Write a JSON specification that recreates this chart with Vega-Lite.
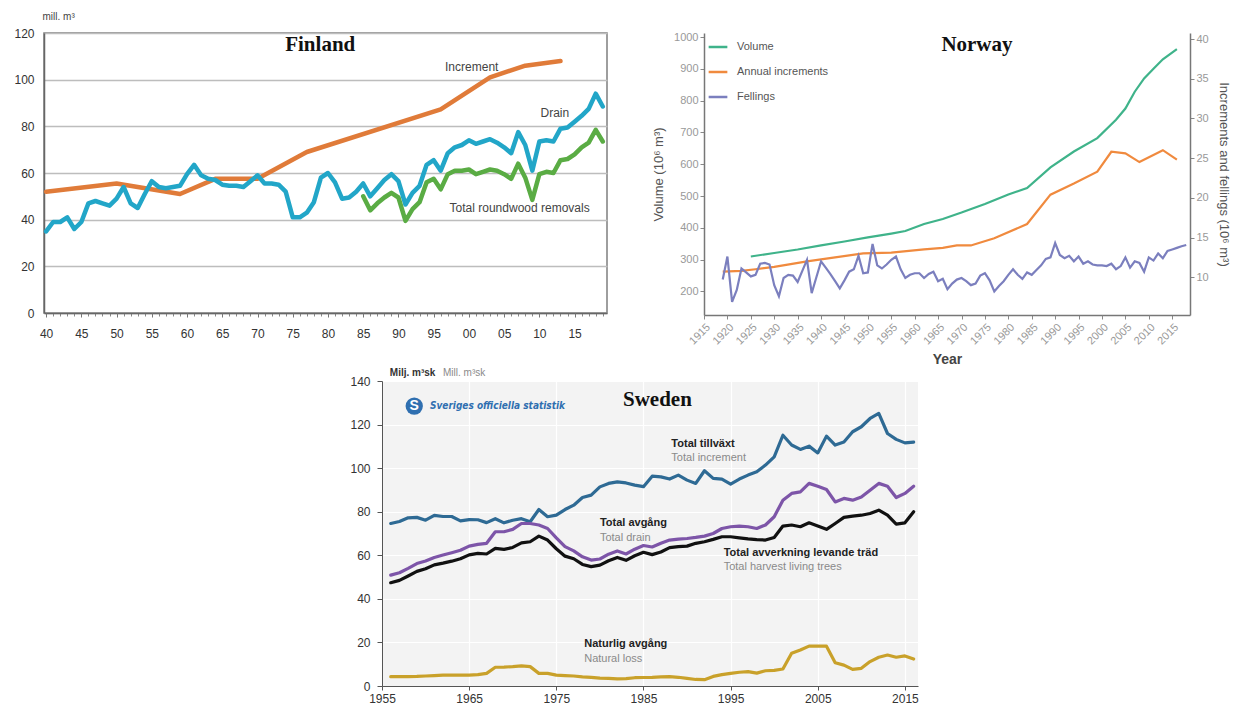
{
"$schema": "https://vega.github.io/schema/vega-lite/v6.json",
"background": "white",
"padding": {"left": 13, "top": 10, "right": 12, "bottom": 0},
"autosize": {"type": "pad"},
"bounds": "full",
"spacing": 1,
"resolve": {"scale": {"color": "independent", "strokeWidth": "independent"}, "legend": {"color": "independent", "strokeWidth": "independent"}},
"config": {"font": "Liberation Sans", "view": {"stroke": null}},
"datasets": {
"fin": [
{"s":"Increment","year":1940,"value":52},{"s":"Increment","year":1950,"value":55.5},{"s":"Increment","year":1959,"value":51},{"s":"Increment","year":1964,"value":57.5},{"s":"Increment","year":1970,"value":57.5},{"s":"Increment","year":1977,"value":69},{"s":"Increment","year":1996,"value":87.3},{"s":"Increment","year":2003,"value":101},{"s":"Increment","year":2008,"value":106},{"s":"Increment","year":2013,"value":108},
{"s":"Drain","year":1940,"value":35},{"s":"Drain","year":1941,"value":39},{"s":"Drain","year":1942,"value":39},{"s":"Drain","year":1943,"value":41},{"s":"Drain","year":1944,"value":36},{"s":"Drain","year":1945,"value":39},{"s":"Drain","year":1946,"value":47},{"s":"Drain","year":1947,"value":48},{"s":"Drain","year":1948,"value":47},{"s":"Drain","year":1949,"value":46},
{"s":"Drain","year":1950,"value":49},{"s":"Drain","year":1951,"value":54},{"s":"Drain","year":1952,"value":47},{"s":"Drain","year":1953,"value":45},{"s":"Drain","year":1954,"value":51},{"s":"Drain","year":1955,"value":56.5},{"s":"Drain","year":1956,"value":54},{"s":"Drain","year":1957,"value":53.5},{"s":"Drain","year":1958,"value":54},{"s":"Drain","year":1959,"value":54.5},
{"s":"Drain","year":1960,"value":59.5},{"s":"Drain","year":1961,"value":63.5},{"s":"Drain","year":1962,"value":59},{"s":"Drain","year":1963,"value":57.5},{"s":"Drain","year":1964,"value":57},{"s":"Drain","year":1965,"value":55},{"s":"Drain","year":1966,"value":54.5},{"s":"Drain","year":1967,"value":54.5},{"s":"Drain","year":1968,"value":54},{"s":"Drain","year":1969,"value":56.5},
{"s":"Drain","year":1970,"value":59},{"s":"Drain","year":1971,"value":55.5},{"s":"Drain","year":1972,"value":55.5},{"s":"Drain","year":1973,"value":55},{"s":"Drain","year":1974,"value":52},{"s":"Drain","year":1975,"value":41},{"s":"Drain","year":1976,"value":41},{"s":"Drain","year":1977,"value":43},{"s":"Drain","year":1978,"value":47.5},{"s":"Drain","year":1979,"value":58},
{"s":"Drain","year":1980,"value":60},{"s":"Drain","year":1981,"value":56},{"s":"Drain","year":1982,"value":49},{"s":"Drain","year":1983,"value":49.5},{"s":"Drain","year":1984,"value":52},{"s":"Drain","year":1985,"value":55.5},{"s":"Drain","year":1986,"value":50},{"s":"Drain","year":1987,"value":53.5},{"s":"Drain","year":1988,"value":57},{"s":"Drain","year":1989,"value":59.5},
{"s":"Drain","year":1990,"value":56.5},{"s":"Drain","year":1991,"value":46.5},{"s":"Drain","year":1992,"value":51.5},{"s":"Drain","year":1993,"value":54.5},{"s":"Drain","year":1994,"value":63.5},{"s":"Drain","year":1995,"value":65.5},{"s":"Drain","year":1996,"value":61},{"s":"Drain","year":1997,"value":68.5},{"s":"Drain","year":1998,"value":71},{"s":"Drain","year":1999,"value":72},
{"s":"Drain","year":2000,"value":74},{"s":"Drain","year":2001,"value":72.5},{"s":"Drain","year":2002,"value":73.5},{"s":"Drain","year":2003,"value":74.5},{"s":"Drain","year":2004,"value":73},{"s":"Drain","year":2005,"value":71},{"s":"Drain","year":2006,"value":68.5},{"s":"Drain","year":2007,"value":77.5},{"s":"Drain","year":2008,"value":72},{"s":"Drain","year":2009,"value":61},
{"s":"Drain","year":2010,"value":73.5},{"s":"Drain","year":2011,"value":74},{"s":"Drain","year":2012,"value":73.5},{"s":"Drain","year":2013,"value":79},{"s":"Drain","year":2014,"value":79.5},{"s":"Drain","year":2015,"value":82},{"s":"Drain","year":2016,"value":84.5},{"s":"Drain","year":2017,"value":87.5},{"s":"Drain","year":2018,"value":94},{"s":"Drain","year":2019,"value":88.5},
{"s":"Total roundwood removals","year":1985,"value":50},{"s":"Total roundwood removals","year":1986,"value":44},{"s":"Total roundwood removals","year":1987,"value":47},{"s":"Total roundwood removals","year":1988,"value":49.5},{"s":"Total roundwood removals","year":1989,"value":51.5},
{"s":"Total roundwood removals","year":1990,"value":49.5},{"s":"Total roundwood removals","year":1991,"value":39.5},{"s":"Total roundwood removals","year":1992,"value":44.5},{"s":"Total roundwood removals","year":1993,"value":47.5},{"s":"Total roundwood removals","year":1994,"value":56},{"s":"Total roundwood removals","year":1995,"value":57.5},{"s":"Total roundwood removals","year":1996,"value":53},{"s":"Total roundwood removals","year":1997,"value":59.5},{"s":"Total roundwood removals","year":1998,"value":61},{"s":"Total roundwood removals","year":1999,"value":61},
{"s":"Total roundwood removals","year":2000,"value":61.5},{"s":"Total roundwood removals","year":2001,"value":59.5},{"s":"Total roundwood removals","year":2002,"value":60.5},{"s":"Total roundwood removals","year":2003,"value":61.5},{"s":"Total roundwood removals","year":2004,"value":61},{"s":"Total roundwood removals","year":2005,"value":59.5},{"s":"Total roundwood removals","year":2006,"value":57.5},{"s":"Total roundwood removals","year":2007,"value":64},{"s":"Total roundwood removals","year":2008,"value":58},{"s":"Total roundwood removals","year":2009,"value":48.5},
{"s":"Total roundwood removals","year":2010,"value":59.5},{"s":"Total roundwood removals","year":2011,"value":60.5},{"s":"Total roundwood removals","year":2012,"value":60},{"s":"Total roundwood removals","year":2013,"value":65.5},{"s":"Total roundwood removals","year":2014,"value":66},{"s":"Total roundwood removals","year":2015,"value":68},{"s":"Total roundwood removals","year":2016,"value":71},{"s":"Total roundwood removals","year":2017,"value":73},{"s":"Total roundwood removals","year":2018,"value":78.5},{"s":"Total roundwood removals","year":2019,"value":73.5}
],
"fin_title": [{"year":1978.9,"value":114.9,"label":"Finland"}],
"fin_lab": [{"year":2000.4,"value":105.4,"label":"Increment"},{"year":2012.2,"value":85.7,"label":"Drain"},{"year":2007.2,"value":45,"label":"Total roundwood removals"}],
"nor_vol": [
{"s":"Volume","year":1925,"value":310},{"s":"Volume","year":1930,"value":321},{"s":"Volume","year":1935,"value":332},{"s":"Volume","year":1940,"value":345},{"s":"Volume","year":1945,"value":357},{"s":"Volume","year":1950,"value":370},{"s":"Volume","year":1955,"value":382},{"s":"Volume","year":1958,"value":390},{"s":"Volume","year":1962,"value":412},{"s":"Volume","year":1966,"value":428},{"s":"Volume","year":1970,"value":448},{"s":"Volume","year":1975,"value":475},{"s":"Volume","year":1980,"value":505},{"s":"Volume","year":1984,"value":525},{"s":"Volume","year":1989,"value":590},{"s":"Volume","year":1994,"value":640},{"s":"Volume","year":1999,"value":682},{"s":"Volume","year":2003,"value":740},{"s":"Volume","year":2005,"value":775},{"s":"Volume","year":2007,"value":828},{"s":"Volume","year":2009,"value":870},{"s":"Volume","year":2011,"value":900},{"s":"Volume","year":2013,"value":930},{"s":"Volume","year":2016,"value":962}
],
"nor_if": [
{"s":"Annual increments","year":1919,"value":10.7},{"s":"Annual increments","year":1923,"value":10.8},{"s":"Annual increments","year":1926,"value":11.0},{"s":"Annual increments","year":1930,"value":11.3},{"s":"Annual increments","year":1937,"value":12.0},{"s":"Annual increments","year":1943,"value":12.5},{"s":"Annual increments","year":1949,"value":13.0},{"s":"Annual increments","year":1955,"value":13.1},{"s":"Annual increments","year":1962,"value":13.5},{"s":"Annual increments","year":1966,"value":13.7},{"s":"Annual increments","year":1969,"value":14.0},{"s":"Annual increments","year":1972,"value":14.0},{"s":"Annual increments","year":1977,"value":14.9},{"s":"Annual increments","year":1984,"value":16.7},{"s":"Annual increments","year":1989,"value":20.4},{"s":"Annual increments","year":1994,"value":21.8},{"s":"Annual increments","year":1999,"value":23.3},{"s":"Annual increments","year":2002,"value":25.8},{"s":"Annual increments","year":2005,"value":25.6},{"s":"Annual increments","year":2008,"value":24.5},{"s":"Annual increments","year":2013,"value":26.0},{"s":"Annual increments","year":2016,"value":24.8},
{"s":"Fellings","year":1919,"value":9.7},{"s":"Fellings","year":1920,"value":12.6},{"s":"Fellings","year":1921,"value":6.9},{"s":"Fellings","year":1922,"value":8.4},{"s":"Fellings","year":1923,"value":11.1},{"s":"Fellings","year":1924,"value":10.6},{"s":"Fellings","year":1925,"value":10.1},{"s":"Fellings","year":1926,"value":10.3},{"s":"Fellings","year":1927,"value":11.7},{"s":"Fellings","year":1928,"value":11.8},{"s":"Fellings","year":1929,"value":11.6},
{"s":"Fellings","year":1930,"value":9.0},{"s":"Fellings","year":1931,"value":7.6},{"s":"Fellings","year":1932,"value":9.9},{"s":"Fellings","year":1933,"value":10.3},{"s":"Fellings","year":1934,"value":10.2},{"s":"Fellings","year":1935,"value":9.4},{"s":"Fellings","year":1936,"value":10.8},{"s":"Fellings","year":1937,"value":12.2},{"s":"Fellings","year":1938,"value":8.0},{"s":"Fellings","year":1939,"value":10.0},
{"s":"Fellings","year":1940,"value":12.0},{"s":"Fellings","year":1941,"value":11.2},{"s":"Fellings","year":1942,"value":10.4},{"s":"Fellings","year":1943,"value":9.5},{"s":"Fellings","year":1944,"value":8.6},{"s":"Fellings","year":1945,"value":9.6},{"s":"Fellings","year":1946,"value":10.7},{"s":"Fellings","year":1947,"value":11.0},{"s":"Fellings","year":1948,"value":12.7},{"s":"Fellings","year":1949,"value":10.5},
{"s":"Fellings","year":1950,"value":10.6},{"s":"Fellings","year":1951,"value":14.2},{"s":"Fellings","year":1952,"value":11.5},{"s":"Fellings","year":1953,"value":11.1},{"s":"Fellings","year":1954,"value":11.6},{"s":"Fellings","year":1955,"value":12.2},{"s":"Fellings","year":1956,"value":12.6},{"s":"Fellings","year":1957,"value":11.0},{"s":"Fellings","year":1958,"value":9.9},{"s":"Fellings","year":1959,"value":10.3},
{"s":"Fellings","year":1960,"value":10.5},{"s":"Fellings","year":1961,"value":10.5},{"s":"Fellings","year":1962,"value":9.9},{"s":"Fellings","year":1963,"value":10.4},{"s":"Fellings","year":1964,"value":10.7},{"s":"Fellings","year":1965,"value":9.5},{"s":"Fellings","year":1966,"value":9.8},{"s":"Fellings","year":1967,"value":8.5},{"s":"Fellings","year":1968,"value":9.2},{"s":"Fellings","year":1969,"value":9.7},
{"s":"Fellings","year":1970,"value":9.9},{"s":"Fellings","year":1971,"value":9.5},{"s":"Fellings","year":1972,"value":9.0},{"s":"Fellings","year":1973,"value":9.2},{"s":"Fellings","year":1974,"value":10.2},{"s":"Fellings","year":1975,"value":10.5},{"s":"Fellings","year":1976,"value":9.6},{"s":"Fellings","year":1977,"value":8.2},{"s":"Fellings","year":1978,"value":8.9},{"s":"Fellings","year":1979,"value":9.5},
{"s":"Fellings","year":1980,"value":10.3},{"s":"Fellings","year":1981,"value":11.0},{"s":"Fellings","year":1982,"value":10.3},{"s":"Fellings","year":1983,"value":9.8},{"s":"Fellings","year":1984,"value":10.6},{"s":"Fellings","year":1985,"value":10.3},{"s":"Fellings","year":1986,"value":10.9},{"s":"Fellings","year":1987,"value":11.5},{"s":"Fellings","year":1988,"value":12.3},{"s":"Fellings","year":1989,"value":12.5},
{"s":"Fellings","year":1990,"value":14.3},{"s":"Fellings","year":1991,"value":12.8},{"s":"Fellings","year":1992,"value":12.4},{"s":"Fellings","year":1993,"value":12.7},{"s":"Fellings","year":1994,"value":12.0},{"s":"Fellings","year":1995,"value":12.6},{"s":"Fellings","year":1996,"value":11.7},{"s":"Fellings","year":1997,"value":12.0},{"s":"Fellings","year":1998,"value":11.6},{"s":"Fellings","year":1999,"value":11.5},
{"s":"Fellings","year":2000,"value":11.5},{"s":"Fellings","year":2001,"value":11.4},{"s":"Fellings","year":2002,"value":11.7},{"s":"Fellings","year":2003,"value":11.0},{"s":"Fellings","year":2004,"value":11.4},{"s":"Fellings","year":2005,"value":12.5},{"s":"Fellings","year":2006,"value":11.2},{"s":"Fellings","year":2007,"value":12.0},{"s":"Fellings","year":2008,"value":11.8},{"s":"Fellings","year":2009,"value":10.7},
{"s":"Fellings","year":2010,"value":12.5},{"s":"Fellings","year":2011,"value":12.1},{"s":"Fellings","year":2012,"value":13.0},{"s":"Fellings","year":2013,"value":12.4},{"s":"Fellings","year":2014,"value":13.3},{"s":"Fellings","year":2015,"value":13.5},{"s":"Fellings","year":2016,"value":13.7},{"s":"Fellings","year":2017,"value":13.9},{"s":"Fellings","year":2018,"value":14.05}
],
"nor_title": [{"year":1973.3,"value":975,"label":"Norway"}],
"spacer": [{"a":0}],
"swe": [
{"s":"Total tillväxt","year":1956,"value":74.6},{"s":"Total tillväxt","year":1957,"value":75.5},{"s":"Total tillväxt","year":1958,"value":77.2},{"s":"Total tillväxt","year":1959,"value":77.4},{"s":"Total tillväxt","year":1960,"value":76.1},{"s":"Total tillväxt","year":1961,"value":78.3},{"s":"Total tillväxt","year":1962,"value":77.8},{"s":"Total tillväxt","year":1963,"value":77.8},{"s":"Total tillväxt","year":1964,"value":75.8},{"s":"Total tillväxt","year":1965,"value":76.4},
{"s":"Total tillväxt","year":1966,"value":76.3},{"s":"Total tillväxt","year":1967,"value":75.0},{"s":"Total tillväxt","year":1968,"value":76.8},{"s":"Total tillväxt","year":1969,"value":74.9},{"s":"Total tillväxt","year":1970,"value":76.1},{"s":"Total tillväxt","year":1971,"value":76.8},{"s":"Total tillväxt","year":1972,"value":75.4},{"s":"Total tillväxt","year":1973,"value":81.0},{"s":"Total tillväxt","year":1974,"value":77.7},{"s":"Total tillväxt","year":1975,"value":78.4},
{"s":"Total tillväxt","year":1976,"value":81.0},{"s":"Total tillväxt","year":1977,"value":83.0},{"s":"Total tillväxt","year":1978,"value":86.5},{"s":"Total tillväxt","year":1979,"value":87.6},{"s":"Total tillväxt","year":1980,"value":91.4},{"s":"Total tillväxt","year":1981,"value":93.0},{"s":"Total tillväxt","year":1982,"value":93.7},{"s":"Total tillväxt","year":1983,"value":93.2},{"s":"Total tillväxt","year":1984,"value":92.2},{"s":"Total tillväxt","year":1985,"value":91.5},
{"s":"Total tillväxt","year":1986,"value":96.3},{"s":"Total tillväxt","year":1987,"value":96.0},{"s":"Total tillväxt","year":1988,"value":95.0},{"s":"Total tillväxt","year":1989,"value":96.8},{"s":"Total tillväxt","year":1990,"value":94.5},{"s":"Total tillväxt","year":1991,"value":93.0},{"s":"Total tillväxt","year":1992,"value":98.8},{"s":"Total tillväxt","year":1993,"value":95.3},{"s":"Total tillväxt","year":1994,"value":95.0},{"s":"Total tillväxt","year":1995,"value":92.7},
{"s":"Total tillväxt","year":1996,"value":95.0},{"s":"Total tillväxt","year":1997,"value":96.8},{"s":"Total tillväxt","year":1998,"value":98.3},{"s":"Total tillväxt","year":1999,"value":101.4},{"s":"Total tillväxt","year":2000,"value":105.2},{"s":"Total tillväxt","year":2001,"value":115.1},{"s":"Total tillväxt","year":2002,"value":110.6},{"s":"Total tillväxt","year":2003,"value":108.6},{"s":"Total tillväxt","year":2004,"value":110.1},{"s":"Total tillväxt","year":2005,"value":107.0},
{"s":"Total tillväxt","year":2006,"value":114.7},{"s":"Total tillväxt","year":2007,"value":110.6},{"s":"Total tillväxt","year":2008,"value":112.0},{"s":"Total tillväxt","year":2009,"value":116.7},{"s":"Total tillväxt","year":2010,"value":119.0},{"s":"Total tillväxt","year":2011,"value":122.8},{"s":"Total tillväxt","year":2012,"value":125.1},{"s":"Total tillväxt","year":2013,"value":115.9},{"s":"Total tillväxt","year":2014,"value":113.2},{"s":"Total tillväxt","year":2015,"value":111.6},{"s":"Total tillväxt","year":2016,"value":111.9},
{"s":"Total avgång","year":1956,"value":50.9},{"s":"Total avgång","year":1957,"value":52.0},{"s":"Total avgång","year":1958,"value":54.0},{"s":"Total avgång","year":1959,"value":56.2},{"s":"Total avgång","year":1960,"value":57.4},{"s":"Total avgång","year":1961,"value":59.0},{"s":"Total avgång","year":1962,"value":60.1},{"s":"Total avgång","year":1963,"value":61.2},{"s":"Total avgång","year":1964,"value":62.3},{"s":"Total avgång","year":1965,"value":64.2},
{"s":"Total avgång","year":1966,"value":65.0},{"s":"Total avgång","year":1967,"value":65.5},{"s":"Total avgång","year":1968,"value":70.8},{"s":"Total avgång","year":1969,"value":70.8},{"s":"Total avgång","year":1970,"value":71.9},{"s":"Total avgång","year":1971,"value":74.6},{"s":"Total avgång","year":1972,"value":74.6},{"s":"Total avgång","year":1973,"value":73.9},{"s":"Total avgång","year":1974,"value":72.3},{"s":"Total avgång","year":1975,"value":68.0},
{"s":"Total avgång","year":1976,"value":64.0},{"s":"Total avgång","year":1977,"value":62.0},{"s":"Total avgång","year":1978,"value":59.3},{"s":"Total avgång","year":1979,"value":57.8},{"s":"Total avgång","year":1980,"value":58.3},{"s":"Total avgång","year":1981,"value":60.5},{"s":"Total avgång","year":1982,"value":62.0},{"s":"Total avgång","year":1983,"value":60.6},{"s":"Total avgång","year":1984,"value":62.8},{"s":"Total avgång","year":1985,"value":64.5},
{"s":"Total avgång","year":1986,"value":63.8},{"s":"Total avgång","year":1987,"value":65.5},{"s":"Total avgång","year":1988,"value":67.0},{"s":"Total avgång","year":1989,"value":67.4},{"s":"Total avgång","year":1990,"value":67.7},{"s":"Total avgång","year":1991,"value":68.2},{"s":"Total avgång","year":1992,"value":68.8},{"s":"Total avgång","year":1993,"value":70.0},{"s":"Total avgång","year":1994,"value":72.3},{"s":"Total avgång","year":1995,"value":73.1},
{"s":"Total avgång","year":1996,"value":73.4},{"s":"Total avgång","year":1997,"value":73.1},{"s":"Total avgång","year":1998,"value":72.3},{"s":"Total avgång","year":1999,"value":73.9},{"s":"Total avgång","year":2000,"value":77.7},{"s":"Total avgång","year":2001,"value":85.3},{"s":"Total avgång","year":2002,"value":88.4},{"s":"Total avgång","year":2003,"value":89.1},{"s":"Total avgång","year":2004,"value":93.0},{"s":"Total avgång","year":2005,"value":91.7},
{"s":"Total avgång","year":2006,"value":90.2},{"s":"Total avgång","year":2007,"value":84.5},{"s":"Total avgång","year":2008,"value":86.1},{"s":"Total avgång","year":2009,"value":85.3},{"s":"Total avgång","year":2010,"value":86.8},{"s":"Total avgång","year":2011,"value":89.9},{"s":"Total avgång","year":2012,"value":93.0},{"s":"Total avgång","year":2013,"value":91.7},{"s":"Total avgång","year":2014,"value":86.5},{"s":"Total avgång","year":2015,"value":88.4},{"s":"Total avgång","year":2016,"value":91.7},
{"s":"Total avverkning levande träd","year":1956,"value":47.4},{"s":"Total avverkning levande träd","year":1957,"value":48.5},{"s":"Total avverkning levande träd","year":1958,"value":50.5},{"s":"Total avverkning levande träd","year":1959,"value":52.6},{"s":"Total avverkning levande träd","year":1960,"value":53.8},{"s":"Total avverkning levande träd","year":1961,"value":55.6},{"s":"Total avverkning levande träd","year":1962,"value":56.4},{"s":"Total avverkning levande träd","year":1963,"value":57.3},{"s":"Total avverkning levande träd","year":1964,"value":58.4},{"s":"Total avverkning levande träd","year":1965,"value":60.2},
{"s":"Total avverkning levande träd","year":1966,"value":60.9},{"s":"Total avverkning levande träd","year":1967,"value":60.6},{"s":"Total avverkning levande träd","year":1968,"value":63.2},{"s":"Total avverkning levande träd","year":1969,"value":62.7},{"s":"Total avverkning levande träd","year":1970,"value":63.6},{"s":"Total avverkning levande träd","year":1971,"value":65.7},{"s":"Total avverkning levande träd","year":1972,"value":66.2},{"s":"Total avverkning levande träd","year":1973,"value":68.8},{"s":"Total avverkning levande träd","year":1974,"value":67.0},{"s":"Total avverkning levande träd","year":1975,"value":63.0},
{"s":"Total avverkning levande träd","year":1976,"value":59.6},{"s":"Total avverkning levande träd","year":1977,"value":58.4},{"s":"Total avverkning levande träd","year":1978,"value":55.8},{"s":"Total avverkning levande träd","year":1979,"value":54.8},{"s":"Total avverkning levande träd","year":1980,"value":55.5},{"s":"Total avverkning levande träd","year":1981,"value":57.5},{"s":"Total avverkning levande träd","year":1982,"value":59.0},{"s":"Total avverkning levande träd","year":1983,"value":57.7},{"s":"Total avverkning levande träd","year":1984,"value":59.8},{"s":"Total avverkning levande träd","year":1985,"value":61.4},
{"s":"Total avverkning levande träd","year":1986,"value":60.3},{"s":"Total avverkning levande träd","year":1987,"value":61.5},{"s":"Total avverkning levande träd","year":1988,"value":63.5},{"s":"Total avverkning levande träd","year":1989,"value":64.0},{"s":"Total avverkning levande träd","year":1990,"value":64.2},{"s":"Total avverkning levande träd","year":1991,"value":65.5},{"s":"Total avverkning levande träd","year":1992,"value":66.2},{"s":"Total avverkning levande träd","year":1993,"value":67.3},{"s":"Total avverkning levande träd","year":1994,"value":68.5},{"s":"Total avverkning levande träd","year":1995,"value":68.5},
{"s":"Total avverkning levande träd","year":1996,"value":68.0},{"s":"Total avverkning levande träd","year":1997,"value":67.5},{"s":"Total avverkning levande träd","year":1998,"value":67.2},{"s":"Total avverkning levande träd","year":1999,"value":67.0},{"s":"Total avverkning levande träd","year":2000,"value":68.2},{"s":"Total avverkning levande träd","year":2001,"value":73.4},{"s":"Total avverkning levande träd","year":2002,"value":73.9},{"s":"Total avverkning levande träd","year":2003,"value":73.1},{"s":"Total avverkning levande träd","year":2004,"value":74.9},{"s":"Total avverkning levande träd","year":2005,"value":73.4},
{"s":"Total avverkning levande träd","year":2006,"value":71.9},{"s":"Total avverkning levande träd","year":2007,"value":74.6},{"s":"Total avverkning levande träd","year":2008,"value":77.4},{"s":"Total avverkning levande träd","year":2009,"value":78.0},{"s":"Total avverkning levande träd","year":2010,"value":78.4},{"s":"Total avverkning levande träd","year":2011,"value":79.2},{"s":"Total avverkning levande träd","year":2012,"value":80.7},{"s":"Total avverkning levande träd","year":2013,"value":78.4},{"s":"Total avverkning levande träd","year":2014,"value":74.3},{"s":"Total avverkning levande träd","year":2015,"value":74.9},{"s":"Total avverkning levande träd","year":2016,"value":80.0},
{"s":"Naturlig avgång","year":1956,"value":4.3},{"s":"Naturlig avgång","year":1957,"value":4.3},{"s":"Naturlig avgång","year":1958,"value":4.3},{"s":"Naturlig avgång","year":1959,"value":4.4},{"s":"Naturlig avgång","year":1960,"value":4.6},{"s":"Naturlig avgång","year":1961,"value":4.8},{"s":"Naturlig avgång","year":1962,"value":5.0},{"s":"Naturlig avgång","year":1963,"value":5.0},{"s":"Naturlig avgång","year":1964,"value":5.0},{"s":"Naturlig avgång","year":1965,"value":5.0},
{"s":"Naturlig avgång","year":1966,"value":5.2},{"s":"Naturlig avgång","year":1967,"value":5.8},{"s":"Naturlig avgång","year":1968,"value":8.6},{"s":"Naturlig avgång","year":1969,"value":8.7},{"s":"Naturlig avgång","year":1970,"value":8.9},{"s":"Naturlig avgång","year":1971,"value":9.2},{"s":"Naturlig avgång","year":1972,"value":8.9},{"s":"Naturlig avgång","year":1973,"value":5.8},{"s":"Naturlig avgång","year":1974,"value":5.8},{"s":"Naturlig avgång","year":1975,"value":5.0},
{"s":"Naturlig avgång","year":1976,"value":4.8},{"s":"Naturlig avgång","year":1977,"value":4.6},{"s":"Naturlig avgång","year":1978,"value":4.2},{"s":"Naturlig avgång","year":1979,"value":4.0},{"s":"Naturlig avgång","year":1980,"value":3.6},{"s":"Naturlig avgång","year":1981,"value":3.5},{"s":"Naturlig avgång","year":1982,"value":3.3},{"s":"Naturlig avgång","year":1983,"value":3.4},{"s":"Naturlig avgång","year":1984,"value":3.8},{"s":"Naturlig avgång","year":1985,"value":3.9},
{"s":"Naturlig avgång","year":1986,"value":4.0},{"s":"Naturlig avgång","year":1987,"value":4.2},{"s":"Naturlig avgång","year":1988,"value":4.3},{"s":"Naturlig avgång","year":1989,"value":4.0},{"s":"Naturlig avgång","year":1990,"value":3.5},{"s":"Naturlig avgång","year":1991,"value":3.0},{"s":"Naturlig avgång","year":1992,"value":2.9},{"s":"Naturlig avgång","year":1993,"value":4.4},{"s":"Naturlig avgång","year":1994,"value":5.2},{"s":"Naturlig avgång","year":1995,"value":5.8},
{"s":"Naturlig avgång","year":1996,"value":6.3},{"s":"Naturlig avgång","year":1997,"value":6.6},{"s":"Naturlig avgång","year":1998,"value":5.9},{"s":"Naturlig avgång","year":1999,"value":7.0},{"s":"Naturlig avgång","year":2000,"value":7.2},{"s":"Naturlig avgång","year":2001,"value":7.8},{"s":"Naturlig avgång","year":2002,"value":15.0},{"s":"Naturlig avgång","year":2003,"value":16.5},{"s":"Naturlig avgång","year":2004,"value":18.3},{"s":"Naturlig avgång","year":2005,"value":18.3},
{"s":"Naturlig avgång","year":2006,"value":18.3},{"s":"Naturlig avgång","year":2007,"value":10.7},{"s":"Naturlig avgång","year":2008,"value":9.6},{"s":"Naturlig avgång","year":2009,"value":7.6},{"s":"Naturlig avgång","year":2010,"value":8.1},{"s":"Naturlig avgång","year":2011,"value":11.2},{"s":"Naturlig avgång","year":2012,"value":13.2},{"s":"Naturlig avgång","year":2013,"value":14.2},{"s":"Naturlig avgång","year":2014,"value":13.2},{"s":"Naturlig avgång","year":2015,"value":13.8},{"s":"Naturlig avgång","year":2016,"value":12.4}
],
"swe_sv": [{"year":1988.2,"value":111.1,"label":"Total tillväxt"},{"year":1980.0,"value":74.8,"label":"Total avgång"},{"year":1994.2,"value":61.0,"label":"Total avverkning levande träd"},{"year":1978.2,"value":19.3,"label":"Naturlig avgång"}],
"swe_en": [{"year":1988.2,"value":104.6,"label":"Total increment"},{"year":1980.0,"value":67.9,"label":"Total drain"},{"year":1994.2,"value":54.6,"label":"Total harvest living trees"},{"year":1978.2,"value":12.4,"label":"Natural loss"}],
"swe_title": [{"year":1986.6,"value":131.3,"label":"Sweden"}],
"swe_unit_sv": [{"year":1955.9,"value":143.6,"label":"Milj. m³sk"}],
"swe_unit_en": [{"year":1962.0,"value":143.6,"label":"Mill. m³sk"}],
"swe_logo": [{"year":1958.7,"value":128.5,"label":"S"}],
"swe_logo_text": [{"year":1960.5,"value":128.5,"label":"Sveriges officiella statistik"}]
},
"vconcat": [
{
"hconcat": [
{
"width": 563, "height": 280,
"view": {"stroke": "#7f7f7f", "strokeWidth": 1.5},
"layer": [
{"data": {"name": "fin"},
 "mark": {"type": "line", "strokeCap": "round", "strokeJoin": "round"},
 "encoding": {
  "x": {"field": "year", "type": "quantitative", "scale": {"domain": [1939.7, 2019.6], "nice": false, "zero": false},
   "axis": {"orient": "bottom", "values": [1940,1941,1942,1943,1944,1945,1946,1947,1948,1949,1950,1951,1952,1953,1954,1955,1956,1957,1958,1959,1960,1961,1962,1963,1964,1965,1966,1967,1968,1969,1970,1971,1972,1973,1974,1975,1976,1977,1978,1979,1980,1981,1982,1983,1984,1985,1986,1987,1988,1989,1990,1991,1992,1993,1994,1995,1996,1997,1998,1999,2000,2001,2002,2003,2004,2005,2006,2007,2008,2009,2010,2011,2012,2013,2014,2015,2016,2017,2018,2019],
    "labels": false, "grid": false, "tickSize": 3, "tickColor": "#888", "domainColor": "#666", "domainWidth": 1.5, "title": null}},
  "y": {"field": "value", "type": "quantitative", "scale": {"domain": [0, 120], "nice": false},
   "axis": {"values": [0,10,20,30,40,50,60,70,80,90,100,110,120], "grid": true, "gridColor": "#bdbdbd", "gridWidth": 1.5, "ticks": false,
    "domainColor": "#666", "domainWidth": 1.5, "labelFontSize": 12, "labelColor": "#333", "labelPadding": 10,
    "title": "mill. m³", "titleAngle": 0, "titleAlign": "left", "titleBaseline": "bottom", "titleX": -2, "titleY": -12,
    "titleFontSize": 10, "titleFontWeight": "normal", "titleColor": "#444"}},
  "color": {"field": "s", "type": "nominal", "scale": {"domain": ["Increment", "Drain", "Total roundwood removals"], "range": ["#e07b39", "#22a6c8", "#5aac44"]}, "legend": null},
  "strokeWidth": {"field": "s", "type": "nominal", "scale": {"domain": ["Increment", "Drain", "Total roundwood removals"], "range": [4.5, 4.5, 2.5]}, "legend": null}
 }},
{"data": {"name": "fin_title"},
 "mark": {"type": "text", "font": "Liberation Serif", "fontWeight": "bold", "fontSize": 21, "color": "#111"},
 "encoding": {
  "x": {"field": "year", "type": "quantitative",
   "axis": {"orient": "bottom", "values": [1940,1945,1950,1955,1960,1965,1970,1975,1980,1985,1990,1995,2000,2005,2010,2015],
    "labelExpr": "substring(toString(datum.value), 2, 4)", "domain": false, "grid": false, "tickSize": 4, "tickColor": "#777",
    "labelFontSize": 12, "labelColor": "#333", "labelPadding": 11, "labelFlush": false, "title": null}},
  "y": {"field": "value", "type": "quantitative"}, "text": {"field": "label"}}},
{"data": {"name": "fin_lab"},
 "mark": {"type": "text", "fontSize": 12, "color": "#444"},
 "encoding": {"x": {"field": "year", "type": "quantitative", "axis": null}, "y": {"field": "value", "type": "quantitative"}, "text": {"field": "label"}}}
],
"resolve": {"axis": {"x": "independent"}}
},
{
"width": 486, "height": 282,
"layer": [
{"data": {"name": "nor_vol"},
 "mark": {"type": "line", "strokeWidth": 2.2},
 "encoding": {
  "x": {"field": "year", "type": "quantitative", "scale": {"domain": [1915, 2018.8], "nice": false, "zero": false},
   "axis": {"orient": "bottom", "values": [1915,1925,1935,1945,1955,1965,1975,1985,1995,2005,2015],
    "format": "d", "labelAngle": -45, "labelColor": "#999", "labelFontSize": 11, "tickColor": "#888", "tickSize": 4,
    "domainColor": "#777", "domainWidth": 1.5, "grid": false, "labelFlush": false,
    "title": "Year", "titleFontSize": 14, "titleFontWeight": "bold", "titleColor": "#444", "titlePadding": 6}},
  "y": {"field": "value", "type": "quantitative", "scale": {"domain": [126, 1012.6], "nice": false, "zero": false},
   "axis": {"values": [200,300,400,500,600,700,800,900,1000], "format": "d", "grid": false, "labelColor": "#999", "labelFontSize": 11,
    "tickColor": "#888", "tickSize": 4, "domainColor": "#777", "domainWidth": 1.5,
    "title": "Volume (10⁶ m³)", "titleFontSize": 13, "titleFontWeight": "normal", "titleColor": "#555", "titlePadding": 8}},
  "color": {"field": "s", "type": "nominal", "scale": {"domain": ["Volume", "Annual increments", "Fellings"], "range": ["#3fb38a", "#f08a3e", "#7b7fbe"]},
   "legend": {"orient": "top-left", "title": null, "symbolType": "stroke", "symbolStrokeWidth": 2.5, "symbolSize": 350,
    "labelFontSize": 11, "labelColor": "#555", "rowPadding": 9, "offset": 3, "padding": 0, "labelOffset": 8}}
 }},
{"data": {"name": "nor_if"},
 "mark": {"type": "line", "strokeWidth": 2.2},
 "encoding": {
  "x": {"field": "year", "type": "quantitative",
   "axis": {"orient": "bottom", "values": [1920,1930,1940,1950,1960,1970,1980,1990,2000,2010],
    "format": "d", "labelAngle": -45, "labelColor": "#999", "labelFontSize": 11, "tickColor": "#888", "tickSize": 4,
    "domain": false, "grid": false, "labelFlush": false, "title": null}},
  "y": {"field": "value", "type": "quantitative", "scale": {"domain": [5.24, 40.76], "nice": false, "zero": false},
   "axis": {"orient": "right", "values": [10,15,20,25,30,35,40], "grid": false, "labelColor": "#999", "labelFontSize": 11,
    "tickColor": "#888", "tickSize": 4, "domainColor": "#777", "domainWidth": 1.5,
    "title": "Increments and fellings (10⁶ m³)", "titleFontSize": 13, "titleFontWeight": "normal", "titleColor": "#555", "titlePadding": 8}},
  "color": {"field": "s", "type": "nominal"}
 }},
{"data": {"name": "nor_title"},
 "mark": {"type": "text", "font": "Liberation Serif", "fontWeight": "bold", "fontSize": 21, "color": "#111"},
 "encoding": {
  "x": {"field": "year", "type": "quantitative", "axis": null},
  "y": {"field": "value", "type": "quantitative", "scale": {"domain": [126, 1012.6], "nice": false, "zero": false}, "axis": null},
  "text": {"field": "label"}}}
],
"resolve": {"scale": {"y": "independent"}, "axis": {"x": "independent"}}
}
],
"spacing": 97,
"bounds": "flush",
"resolve": {"scale": {"color": "independent", "strokeWidth": "independent"}, "legend": {"color": "independent", "strokeWidth": "independent"}}
},
{
"hconcat": [
{"width": 1, "height": 1, "data": {"name": "spacer"}, "mark": {"type": "point", "opacity": 0}, "encoding": {}},
{
"width": 536, "height": 305,
"view": {"fill": "#f3f3f3", "stroke": null},
"layer": [
{"data": {"name": "swe"},
 "mark": {"type": "line", "strokeWidth": 3.2, "strokeJoin": "round", "strokeCap": "round"},
 "encoding": {
  "x": {"field": "year", "type": "quantitative", "scale": {"domain": [1955, 2016.5], "nice": false, "zero": false},
   "axis": {"values": [1955,1965,1975,1985,1995,2005,2015], "format": "d", "grid": true, "gridColor": "#ffffff", "gridWidth": 1.2,
    "tickSize": 4, "tickColor": "#555", "domainColor": "#555", "labelFontSize": 12, "labelColor": "#333", "labelPadding": 3, "labelFlush": false, "title": null}},
  "y": {"field": "value", "type": "quantitative", "scale": {"domain": [0, 140], "nice": false},
   "axis": {"values": [0,20,40,60,80,100,120,140], "grid": true, "gridColor": "#ffffff", "gridWidth": 1.2,
    "tickSize": 5, "tickColor": "#555", "domainColor": "#555", "labelFontSize": 12, "labelColor": "#333", "labelPadding": 7, "title": null}},
  "color": {"field": "s", "type": "nominal", "scale": {"domain": ["Total tillväxt", "Total avgång", "Total avverkning levande träd", "Naturlig avgång"], "range": ["#2e6a94", "#7d55a8", "#111111", "#c9a12a"]}, "legend": null}
 }},
{"data": {"name": "swe_sv"},
 "mark": {"type": "text", "align": "left", "baseline": "middle", "fontSize": 11, "fontWeight": "bold", "color": "#222"},
 "encoding": {"x": {"field": "year", "type": "quantitative"}, "y": {"field": "value", "type": "quantitative"}, "text": {"field": "label"}}},
{"data": {"name": "swe_en"},
 "mark": {"type": "text", "align": "left", "baseline": "middle", "fontSize": 11, "color": "#8a8a8a"},
 "encoding": {"x": {"field": "year", "type": "quantitative"}, "y": {"field": "value", "type": "quantitative"}, "text": {"field": "label"}}},
{"data": {"name": "swe_title"},
 "mark": {"type": "text", "font": "Liberation Serif", "fontWeight": "bold", "fontSize": 21, "color": "#111"},
 "encoding": {"x": {"field": "year", "type": "quantitative"}, "y": {"field": "value", "type": "quantitative"}, "text": {"field": "label"}}},
{"data": {"name": "swe_unit_sv"},
 "mark": {"type": "text", "align": "left", "baseline": "middle", "fontSize": 10, "fontWeight": "bold", "color": "#333"},
 "encoding": {"x": {"field": "year", "type": "quantitative"}, "y": {"field": "value", "type": "quantitative"}, "text": {"field": "label"}}},
{"data": {"name": "swe_unit_en"},
 "mark": {"type": "text", "align": "left", "baseline": "middle", "fontSize": 10, "color": "#8a8a8a"},
 "encoding": {"x": {"field": "year", "type": "quantitative"}, "y": {"field": "value", "type": "quantitative"}, "text": {"field": "label"}}},
{"data": {"name": "swe_logo"},
 "mark": {"type": "point", "shape": "circle", "filled": true, "size": 300, "color": "#2f6fb0", "opacity": 1},
 "encoding": {"x": {"field": "year", "type": "quantitative"}, "y": {"field": "value", "type": "quantitative"}}},
{"data": {"name": "swe_logo"},
 "mark": {"type": "text", "fontSize": 14, "fontWeight": "bold", "color": "#ffffff", "baseline": "middle"},
 "encoding": {"x": {"field": "year", "type": "quantitative"}, "y": {"field": "value", "type": "quantitative"}, "text": {"field": "label"}}},
{"data": {"name": "swe_logo_text"},
 "mark": {"type": "text", "align": "left", "baseline": "middle", "fontSize": 10, "fontWeight": "bold", "fontStyle": "italic", "font": "DejaVu Sans Condensed, Liberation Sans Narrow, Liberation Sans", "color": "#2f6fb0"},
 "encoding": {"x": {"field": "year", "type": "quantitative"}, "y": {"field": "value", "type": "quantitative"}, "text": {"field": "label"}}}
]
}
],
"spacing": 337,
"bounds": "flush",
"resolve": {"scale": {"color": "independent"}, "legend": {"color": "independent"}}
}
]
}
